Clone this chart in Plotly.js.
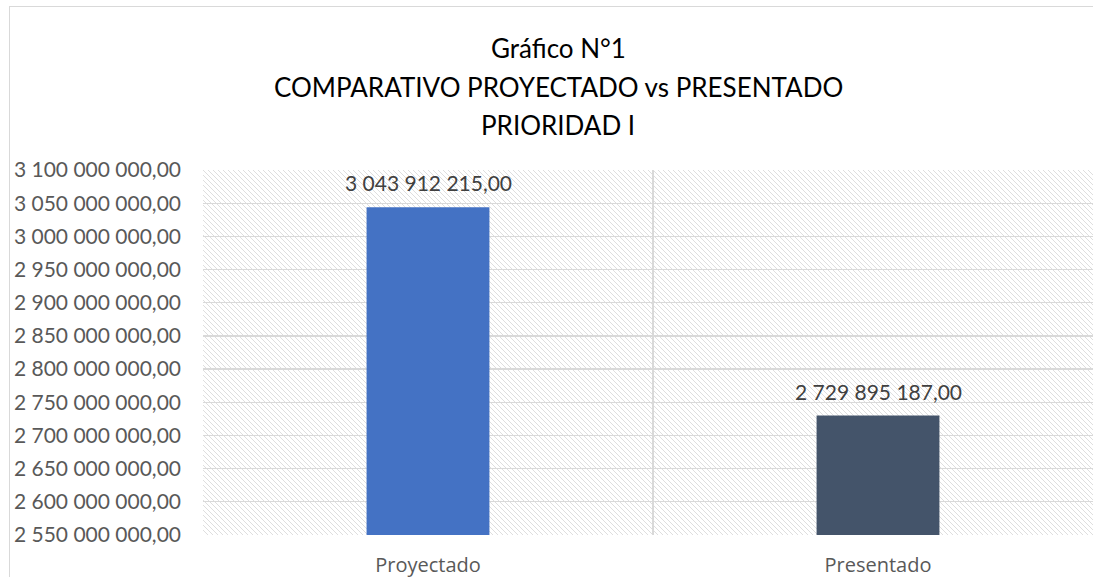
<!DOCTYPE html>
<html>
<head>
<meta charset="utf-8">
<script src="https://cdn.plot.ly/plotly-3.0.1.min.js"></script>
<style>
  html, body { margin: 0; padding: 0; overflow: hidden; background: #fff; width: 1093px; height: 577px; }
  #wrap { position: absolute; left: 9px; top: 6px; border-left: 1px solid #d9d9d9; border-top: 1px solid #d9d9d9; }
</style>
</head>
<body>
<div id="wrap"><div id="chart"></div></div>
<script>
const categories = ["Proyectado", "Presentado"];
const values = [3043912215.00, 2729895187.00];
const barColors = ["#4472C4", "#44546A"];
const titleLines = ["Gráfico N°1", "COMPARATIVO PROYECTADO vs PRESENTADO", "PRIORIDAD I"];
const yRange = [2550000000, 3100000000];
const yStep = 50000000;

const W = 1100, H = 600;
const m = { l: 193, r: 7, t: 163, b: 72 };
const pw = W - m.l - m.r, ph = H - m.t - m.b;

function fmt(v) {
  const parts = v.toFixed(2).split(".");
  return parts[0].replace(/\B(?=(\d{3})+(?!\d))/g, " ") + "," + parts[1];
}

const hatchSvg = '<svg xmlns="http://www.w3.org/2000/svg" width="' + pw + '" height="' + ph + '">' +
  '<defs><pattern id="h" patternUnits="userSpaceOnUse" width="5" height="5">' +
  '<path d="M-1,-1 L6,6 M-1,4 L1,6 M4,-1 L6,1" stroke="#dedede" stroke-width="1"/></pattern></defs>' +
  '<rect width="100%" height="100%" fill="url(#h)"/></svg>';

const trace = {
  type: "bar",
  x: categories,
  y: values,
  marker: { color: barColors },
  width: 0.273,
  hoverinfo: "skip"
};

// title lines: centre y in chart pixels
const titleY = [41, 80, 118];
const titleCx = 548;
const annotations = titleLines.map((t, i) => ({
  text: t, showarrow: false,
  xref: "paper", yref: "paper",
  x: (titleCx - m.l) / pw, y: 1 + (m.t - titleY[i]) / ph,
  xanchor: "center", yanchor: "middle",
  font: { family: "Lato, 'Open Sans', sans-serif", size: 26, color: "#000000" }
}));
categories.forEach((c, i) => annotations.push({
  text: fmt(values[i]), showarrow: false,
  xref: "x", yref: "y", x: c, y: values[i],
  xanchor: "center", yanchor: "bottom", yshift: 10,
  font: { family: "Lato, 'Open Sans', sans-serif", size: 21, color: "#404040" }
}));

const layout = {
  width: W, height: H,
  margin: m,
  separators: ", ",
  paper_bgcolor: "rgba(0,0,0,0)",
  plot_bgcolor: "rgba(0,0,0,0)",
  showlegend: false,
  xaxis: {
    type: "category",
    tickson: "boundaries",
    ticks: "", ticklen: 0,
    showgrid: true, gridcolor: "#d9d9d9", gridwidth: 1.3,
    showline: false, zeroline: false,
    ticklabelstandoff: 16,
    tickfont: { family: "'Open Sans', Lato, sans-serif", size: 20, color: "#595959" },
    fixedrange: true
  },
  yaxis: {
    range: yRange,
    tick0: yRange[0], dtick: yStep,
    tickformat: ",.2f",
    ticks: "",
    showgrid: true, gridcolor: "#d9d9d9", gridwidth: 1.3,
    showline: false, zeroline: false,
    ticklabelstandoff: 21,
    tickfont: { family: "Lato, 'Open Sans', sans-serif", size: 21, color: "#595959" },
    fixedrange: true
  },
  annotations: annotations,
  images: [{
    source: "data:image/svg+xml;charset=utf-8," + encodeURIComponent(hatchSvg),
    xref: "paper", yref: "paper", x: 0, y: 1, sizex: 1, sizey: 1,
    xanchor: "left", yanchor: "top", sizing: "stretch", layer: "below"
  }]
};

Plotly.newPlot("chart", [trace], layout, { displayModeBar: false, staticPlot: true });
</script>
</body>
</html>
